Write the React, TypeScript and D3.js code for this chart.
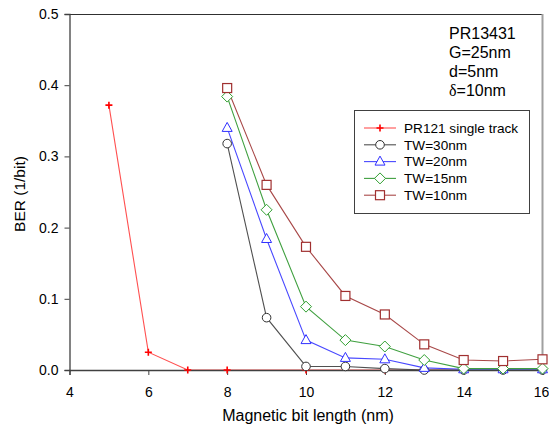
import { useEffect, useRef } from "react";
import * as d3 from "d3";

// Data
const redX = [5, 6, 7, 8, 10, 12, 14];
const redY = [0.372, 0.025, 0, 0, 0, 0, 0];

const twX = [8, 9, 10, 11, 12, 13, 14, 15, 16];
const tw30 = [0.318, 0.0735, 0.005, 0.005, 0.002, 0.0, 0.0, 0.0, 0.0];
const tw20 = [0.34, 0.184, 0.042, 0.017, 0.015, 0.003, 0.001, 0.001, 0.001];
const tw15 = [0.384, 0.225, 0.089, 0.042, 0.033, 0.014, 0.002, 0.002, 0.002];
const tw10 = [0.396, 0.26, 0.173, 0.104, 0.078, 0.036, 0.014, 0.0126, 0.015];

const xTicks = [4, 6, 8, 10, 12, 14, 16];
const yTicks = [0, 0.1, 0.2, 0.3, 0.4, 0.5];
const noteLines = ["PR13431", "G=25nm", "d=5nm", "\u03b4=10nm"];

const seriesList = [
  { name: "PR121 single track", xs: redX, ys: redY, color: "#ff0000", line: "#ff5050", marker: "plus" },
  { name: "TW=30nm", xs: twX, ys: tw30, color: "#303030", line: "#505050", marker: "circle" },
  { name: "TW=20nm", xs: twX, ys: tw20, color: "#3030ff", line: "#4848ff", marker: "triangle" },
  { name: "TW=15nm", xs: twX, ys: tw15, color: "#30a030", line: "#40a040", marker: "diamond" },
  { name: "TW=10nm", xs: twX, ys: tw10, color: "#a03030", line: "#a84848", marker: "square" },
];

function drawMarker(g: any, kind: string, x: number, y: number, color: string) {
  if (kind === "plus") {
    g.append("path")
      .attr("d", `M${x - 3.5},${y}H${x + 3.5}M${x},${y - 3.5}V${y + 3.5}`)
      .attr("stroke", color)
      .attr("stroke-width", 1.6);
  } else if (kind === "circle") {
    g.append("circle").attr("cx", x).attr("cy", y).attr("r", 4.3)
      .attr("fill", "white").attr("stroke", color).attr("stroke-width", 1);
  } else if (kind === "triangle") {
    g.append("path")
      .attr("d", `M${x},${y - 5.5}L${x + 5},${y + 3.5}L${x - 5},${y + 3.5}Z`)
      .attr("fill", "white").attr("stroke", color).attr("stroke-width", 1);
  } else if (kind === "diamond") {
    g.append("path")
      .attr("d", `M${x},${y - 5.5}L${x + 5.5},${y}L${x},${y + 5.5}L${x - 5.5},${y}Z`)
      .attr("fill", "white").attr("stroke", color).attr("stroke-width", 1);
  } else {
    g.append("rect").attr("x", x - 4.5).attr("y", y - 4.5).attr("width", 9).attr("height", 9)
      .attr("fill", "white").attr("stroke", color).attr("stroke-width", 1.2);
  }
}

export default function App() {
  const ref = useRef<SVGSVGElement>(null);

  useEffect(() => {
    const width = 549;
    const height = 430;
    const left = 69.5;
    const right = 542.5;
    const top = 14;
    const bottom = 370;

    const svg = d3.select(ref.current);
    svg.selectAll("*").remove();
    svg.attr("width", width).attr("height", height);

    const x = d3.scaleLinear().domain([4, 16]).range([left, right]);
    const y = d3.scaleLinear().domain([0, 0.5]).range([bottom, top]);

    const font = "Arial, 'Liberation Sans', sans-serif";

    // frame: top and right
    svg.append("line").attr("x1", left).attr("x2", right).attr("y1", top + 0.5).attr("y2", top + 0.5)
      .attr("stroke", "#303030");
    svg.append("line").attr("x1", right).attr("x2", right).attr("y1", top).attr("y2", bottom)
      .attr("stroke", "#a0a0a0").attr("stroke-width", 2);

    // series
    const lineGen = d3.line<[number, number]>().x((d) => x(d[0])).y((d) => y(d[1]));
    seriesList.forEach((s) => {
      const pts: [number, number][] = s.xs.map((v, i) => [v, s.ys[i]]);
      svg.append("path").attr("d", lineGen(pts)).attr("fill", "none")
        .attr("stroke", s.line).attr("stroke-width", 1.1);
    });

    // axes
    const xAxis = svg.append("g").attr("transform", `translate(0,${bottom})`)
      .call(d3.axisBottom(x).tickValues(xTicks).tickSize(5).tickPadding(12).tickFormat(d3.format("d")));
    const yAxis = svg.append("g").attr("transform", `translate(${left},0)`)
      .call(d3.axisLeft(y).tickValues(yTicks).tickSize(5).tickPadding(6).tickFormat(d3.format(".1f")));
    [xAxis, yAxis].forEach((a) => {
      a.select(".domain").attr("stroke", "#404040").attr("stroke-width", 1.3);
      a.selectAll(".tick line").attr("stroke", "#404040");
      a.selectAll(".tick text").attr("fill", "#000").style("font-family", font).style("font-size", "14px");
    });
    // the last label sits at the picture's right edge
    xAxis.selectAll(".tick text").filter((d: any) => d === 16).attr("dx", -1.5);

    // markers drawn above axes
    const mk = svg.append("g");
    seriesList.forEach((s) => {
      s.xs.forEach((v, i) => drawMarker(mk, s.marker, x(v), y(s.ys[i]), s.color));
    });

    // axis titles
    svg.append("text").attr("x", (left + right) / 2 + 2).attr("y", 421).attr("text-anchor", "middle")
      .style("font-family", font).style("font-size", "16px").text("Magnetic bit length (nm)");
    svg.append("text").attr("transform", `translate(25,${(top + bottom) / 2 + 2}) rotate(-90)`)
      .attr("text-anchor", "middle").style("font-family", font).style("font-size", "15.5px")
      .text("BER (1/bit)");

    // annotation
    noteLines.forEach((t, i) => {
      const tx = svg.append("text").attr("x", 449).attr("y", 38.5 + i * 19.3)
        .style("font-family", font).style("font-size", "16px");
      if (t.startsWith("\u03b4")) {
        tx.append("tspan").style("font-family", "'Liberation Serif', serif").text("\u03b4");
        tx.append("tspan").text(t.slice(1));
      } else {
        tx.text(t);
      }
    });

    // legend
    const lg = svg.append("g");
    lg.append("rect").attr("x", 354.5).attr("y", 110.5).attr("width", 175).attr("height", 103)
      .attr("fill", "white").attr("stroke", "#404040");
    seriesList.forEach((s, i) => {
      const ly = 128 + i * 16.8;
      lg.append("line").attr("x1", 364).attr("x2", 396).attr("y1", ly).attr("y2", ly)
        .attr("stroke", s.line).attr("stroke-width", 1.1);
      drawMarker(lg, s.marker, 380, ly, s.color);
      lg.append("text").attr("x", 404).attr("y", ly + 4.8)
        .style("font-family", font).style("font-size", "13.6px").text(s.name);
    });
  }, []);

  return <svg ref={ref} style={{ position: "absolute", left: 0, top: 0 }} />;
}
